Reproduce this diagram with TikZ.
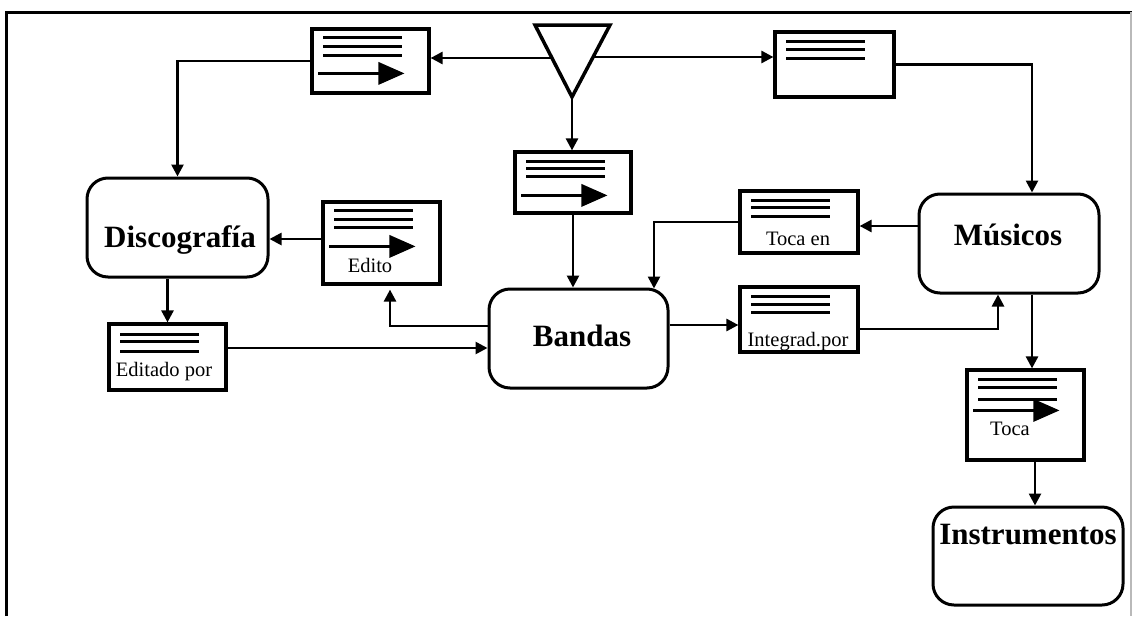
\documentclass[tikz,border=0pt]{standalone}
\usepackage{fontspec}
\setmainfont{Liberation Serif}
\usetikzlibrary{arrows.meta,calc}

% three text rules of a document symbol, offsets from the box's top-left corner
\newcommand\doclines[2]{%
  \begin{scope}[shift={(#1.north west)}]
    \foreach \yy in {#2} \draw[docline] (13,\yy) -- (92,\yy);
  \end{scope}}
% the bold arrow drawn inside a document symbol
\newcommand\docarrow[2]{%
  \begin{scope}[shift={(#1.north west)}]
    \draw[docline] (8,#2) -- (70,#2);
    \fill (68,#2-11.5) -- (94,#2) -- (68,#2+11.5) -- cycle;
  \end{scope}}

\begin{document}
\begin{tikzpicture}[x=1pt,y=-1pt,
  conn/.style={line width=2.6pt},
  arr/.style={conn,-{Triangle[length=12pt,width=12pt]}},
  docbox/.style={draw,rectangle,line width=3.2pt,inner sep=0pt},
  docline/.style={line width=3pt},
  ent/.style={draw,rectangle,line width=3pt,rounded corners=21pt,inner sep=0pt},
  bigtxt/.style={font=\fontsize{31}{31}\selectfont\bfseries,inner sep=0pt,anchor=base},
  smalltxt/.style={font=\fontsize{20.5}{20.5}\selectfont,inner sep=0pt,anchor=base}]

\useasboundingbox (0,0) rectangle (1132,616);

% frame
\draw[line width=3pt] (6,616) -- (6,12) -- (1132,12);
\draw[line width=1.2pt,gray!55] (1131,12) -- (1131,616);

% source triangle
\draw[line width=3.5pt,line join=miter] (535,25) -- (610,25) -- (572,97) -- cycle;
\coordinate (trileft) at (552,58);
\coordinate (triright) at (594,57);
\coordinate (tip) at (572,97);

% document symbols
\node[docbox,minimum width=117pt,minimum height=64pt] (d1) at (370.5,61) {};
\node[docbox,minimum width=119pt,minimum height=65pt] (d2) at (834.5,64.5) {};
\node[docbox,minimum width=116pt,minimum height=61pt] (d3) at (573,182.5) {};
\node[docbox,minimum width=117pt,minimum height=82pt] (edito) at (381.5,243) {};
\node[docbox,minimum width=117pt,minimum height=66pt] (editado) at (167.5,357) {};
\node[docbox,minimum width=118pt,minimum height=62pt] (tocaen) at (799,222) {};
\node[docbox,minimum width=118pt,minimum height=65pt] (integrad) at (799,319.5) {};
\node[docbox,minimum width=117pt,minimum height=90pt] (toca) at (1025.5,415) {};

\doclines{d1}{10,19,28}      \docarrow{d1}{46}
\doclines{d2}{11,19,28}
\doclines{d3}{11,18,26}      \docarrow{d3}{45}
\doclines{edito}{10,19,27}   \docarrow{edito}{46}
\doclines{editado}{12,19,29}
\doclines{tocaen}{11,18,27}
\doclines{integrad}{11,19,27}
\doclines{toca}{11,19,31}    \docarrow{toca}{42}

\node[smalltxt] (edito-t) at (370,272) {Edito};
\node[smalltxt] (editado-t) at (164,376) {Editado por};
\node[smalltxt] (tocaen-t) at (798,245) {Toca en};
\node[smalltxt] (integrad-t) at (798,346) {Integrad.por};
\node[smalltxt] (toca-t) at (1010,435) {Toca};

% entities
\node[ent,minimum width=181pt,minimum height=99pt] (disco) at (177.5,227.5) {};
\node[ent,minimum width=179pt,minimum height=99pt] (bandas) at (578.5,338.5) {};
\node[ent,minimum width=180pt,minimum height=99pt] (musicos) at (1009,243.5) {};
\node[ent,minimum width=190pt,minimum height=98pt] (instr) at (1028,556) {};

\node[bigtxt] (disco-t) at (180,247) {Discografía};
\node[bigtxt] (bandas-t) at (582,346) {Bandas};
\node[bigtxt] (musicos-t) at (1008,245) {Músicos};
\node[bigtxt] (instr-t) at (1028,544) {Instrumentos};

% connectors
\draw[arr] (trileft) -- (trileft -| d1.east);
\draw[arr] (triright) -- (triright -| d2.west);
\draw[arr] (tip) -- (tip |- d3.north);
\draw[arr] (d1.west) -| (disco.north);
\draw[arr] (d2.east) -| ([xshift=23pt]musicos.north);
\draw[arr] (d3.south) -- (d3.south |- bandas.north);
\draw[arr] (editado.north |- disco.south) -- (editado.north);
\draw[arr] ([yshift=4pt]edito.west) -- ([yshift=4pt]edito.west -| disco.east);
\draw[arr] ([yshift=12.5pt]bandas.west) -| ([xshift=8.5pt,yshift=-4pt]edito.south);
\draw[arr] ([yshift=9pt]editado.east) -- ([yshift=9pt]editado.east -| bandas.west);
\draw[arr] ([yshift=13.5pt]bandas.east) -- ([yshift=13.5pt]bandas.east -| integrad.west);
\draw[arr] ([yshift=-9.5pt]integrad.east) -| ([xshift=-11pt]musicos.south);
\draw[arr] ([yshift=17.5pt]musicos.west) -- ([yshift=17.5pt]musicos.west -| tocaen.east);
\draw[arr] (tocaen.west) -| ([xshift=75.5pt,yshift=-1pt]bandas.north);
\draw[arr] ([xshift=23pt]musicos.south) -- ([xshift=23pt]musicos.south |- toca.north);
\draw[arr] ([xshift=9.5pt]toca.south) -- ([xshift=9.5pt]toca.south |- instr.north);

\end{tikzpicture}
\end{document}
